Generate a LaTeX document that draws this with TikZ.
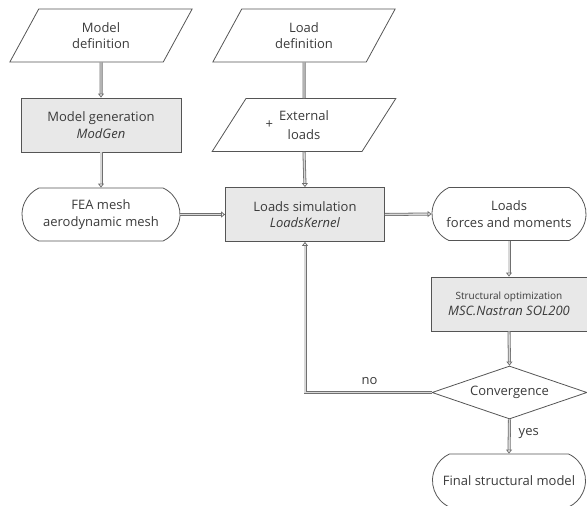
\documentclass[tikz,border=0pt]{standalone}
\usepackage{fontspec}
\setmainfont{Open Sans}
\usetikzlibrary{shapes.geometric,shapes.misc,arrows.meta}
\definecolor{boxfill}{HTML}{E8E8E8}
\definecolor{boxline}{HTML}{555555}
\definecolor{txt}{HTML}{3A3A3A}
\definecolor{conout}{HTML}{707070}
\definecolor{conin}{HTML}{D8D8D8}
\begin{document}
\begin{tikzpicture}[x=1pt,y=-1pt,
  base/.style={draw=boxline, line width=0.8pt, text=txt, font=\fontsize{13}{16.5}\selectfont, align=center, inner sep=1pt},
  io/.style={base, trapezium, trapezium left angle=64, trapezium right angle=116, trapezium stretches=true, minimum width=184pt, minimum height=53pt},
  proc/.style={base, rectangle, fill=boxfill, minimum width=160pt, minimum height=54pt},
  term/.style={base, rounded rectangle, rounded rectangle arc length=130, minimum width=160pt, minimum height=53pt},
  dec/.style={base, diamond, aspect=3, minimum width=155pt, minimum height=53pt},
  conn/.style={draw=conout, line width=0.8pt, double=conin, double distance=1.4pt},
  arr/.style={conn, -{Triangle[open, length=4pt, width=6pt]}},
  lbl/.style={text=txt, font=\fontsize{13}{16.5}\selectfont, inner sep=1pt}
]
\useasboundingbox (0,0) rectangle (587,506);

\node[io] (mdef) at (101,35.5) {Model\\definition};
\node[io] (ldef) at (304,35.5) {Load\\definition};
\node[proc] (mgen) at (101,125) {Model generation\\\textit{ModGen}};
\node[io] (ext) at (304,125) {\llap{\raisebox{-8pt}{+}\hspace{6pt}}External\\loads};
\node[term] (fea) at (101,214.5) {FEA mesh\\aerodynamic mesh};
\node[proc, minimum width=159pt] (lsim) at (305,214.5) {Loads simulation\\\textit{LoadsKernel}};
\node[term, minimum width=156pt] (loads) at (509,214) {Loads\\forces and moments};
\node[proc, minimum width=156pt] (sopt) at (509,304) {{\fontsize{10}{13}\selectfont Structural optimization}\\\textit{MSC.Nastran SOL200}};
\node[dec] (conv) at (509.5,392.5) {Convergence};
\node[term, minimum width=155pt] (final) at (509,480.5) {Final structural model};

\draw[arr] (mdef.south) -- (mgen.north);
\draw[arr] (mgen.south) -- (fea.north);
\draw[conn] (ldef.south) -- (ext.north);
\draw[arr] (ext.south) -- (lsim.north);
\draw[arr] (fea.east) -- (lsim.west);
\draw[arr] (lsim.east) -- (loads.west);
\draw[arr] (loads.south) -- (sopt.north);
\draw[arr] (sopt.south) -- (conv.north);
\draw[arr] (conv.south) -- node[lbl, right=8pt, pos=0.4] (yes) {yes} (final.north);
\draw[arr] (conv.west) -| node[lbl, above=6pt, pos=0.245] (no) {no} (lsim.south);
\end{tikzpicture}
\end{document}
